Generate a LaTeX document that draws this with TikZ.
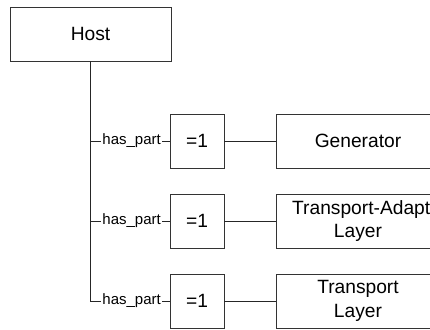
\documentclass[tikz,border=0pt]{standalone}
\usepackage{fontspec}
\setmainfont{Liberation Sans}
\begin{document}
\begin{tikzpicture}[x=1pt,y=-1pt,
  box/.style={draw=black!80,line width=0.9pt,fill=white,inner sep=0pt,
    font=\fontsize{19.2}{23.5}\selectfont,align=center},
  lbl/.style={fill=white,inner sep=1pt,font=\fontsize{15}{17}\selectfont},
  conn/.style={draw=black!85,line width=0.9pt}]
\useasboundingbox (0,0) rectangle (430,329);
\clip (0,0) rectangle (430,329);
\node[box,minimum width=161pt,minimum height=54pt] (host) at (90.5,34) {Host};
\foreach \i/\y in {1/141,2/221,3/301}{
  \node[box,minimum width=54pt,minimum height=54pt] (m\i) at (197,\y) {=1};
}
\node[box,minimum width=164pt,minimum height=54pt] (g) at (358,141) {Generator};
\node[box,minimum width=164pt,minimum height=54pt] (ta) at (358,221) {};
\node[anchor=west,inner sep=0pt,font=\fontsize{19.2}{23.5}\selectfont] (tat) at (292,209.5) {Transport-Adapt};
\node[inner sep=0pt,font=\fontsize{19.2}{23.5}\selectfont] (tal) at (358,233) {Layer};
\node[box,minimum width=164pt,minimum height=54pt] (tl) at (358,301) {Transport\\Layer};
\draw[conn] (host.south) |- node[lbl,pos=0.76] {has\_part} (m3.west);
\draw[conn] (host.south |- m1.west) -- node[lbl,pos=0.52] {has\_part} (m1.west);
\draw[conn] (host.south |- m2.west) -- node[lbl,pos=0.52] {has\_part} (m2.west);
\draw[conn] (m1.east) -- (g.west);
\draw[conn] (m2.east) -- (ta.west);
\draw[conn] (m3.east) -- (tl.west);
\end{tikzpicture}
\end{document}
